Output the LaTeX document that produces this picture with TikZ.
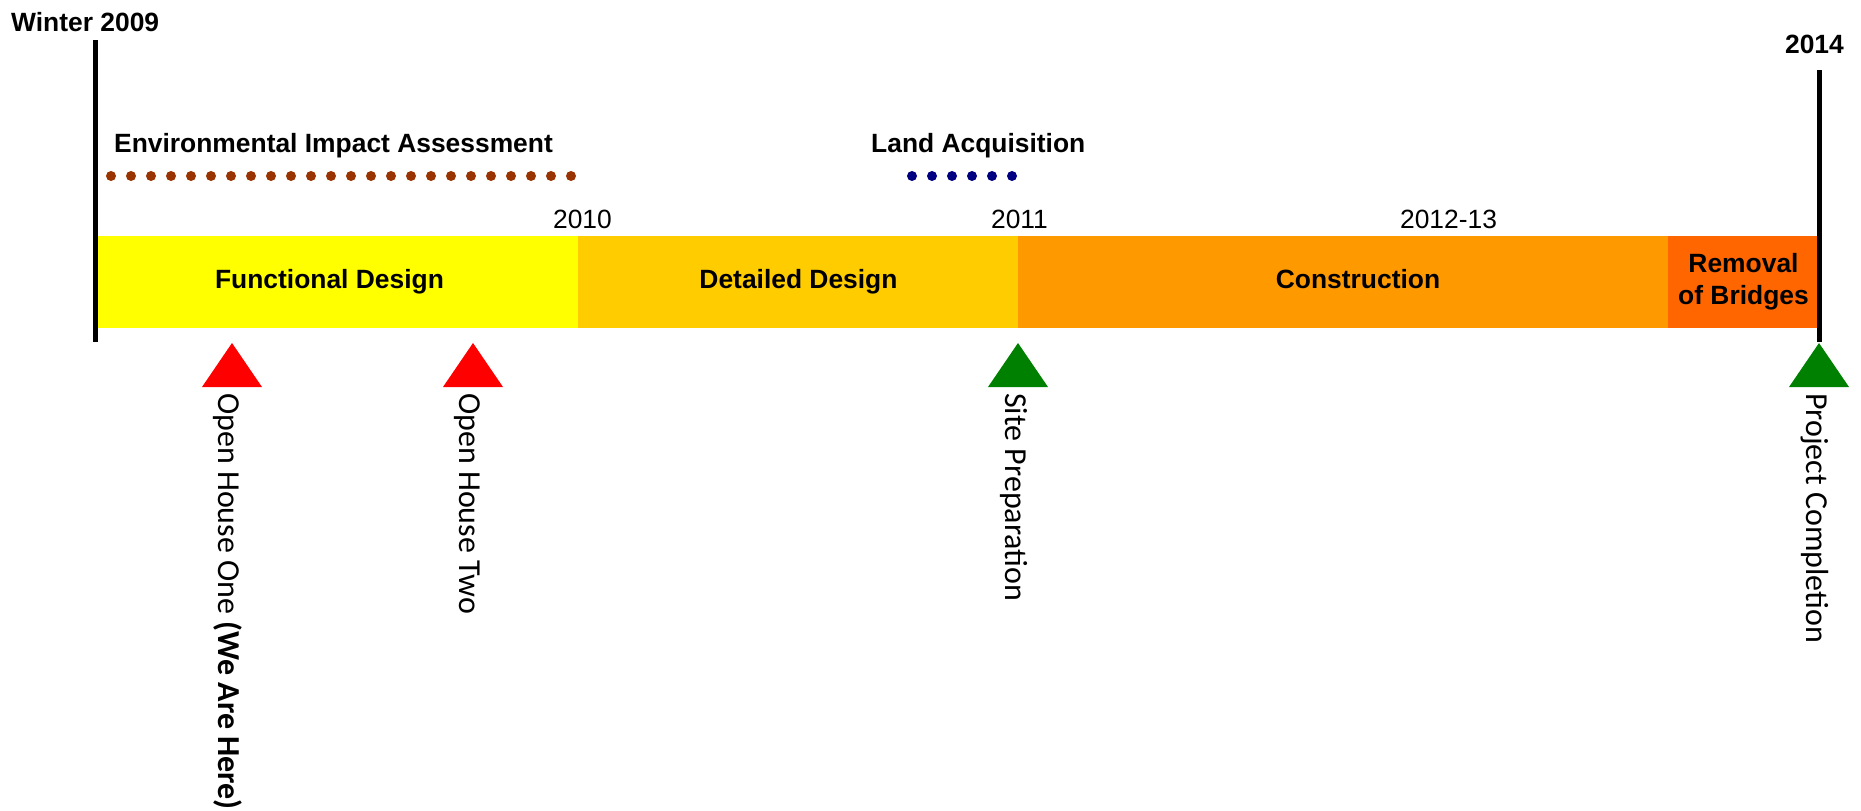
\documentclass[tikz,border=0pt]{standalone}
\usepackage{fontspec}
\setmainfont{Liberation Sans}
\newfontfamily\calib{Carlito}
\definecolor{eiabrown}{HTML}{993300}
\definecolor{landblue}{HTML}{000080}
\definecolor{phaseA}{HTML}{FFFF00}
\definecolor{phaseB}{HTML}{FFCC00}
\definecolor{phaseC}{HTML}{FF9900}
\definecolor{phaseD}{HTML}{FF6600}
\definecolor{msred}{HTML}{FF0000}
\definecolor{msgreen}{HTML}{008000}
\begin{document}
\begin{tikzpicture}[x=1pt,y=-1pt,
  reg/.style={inner sep=0pt, font=\fontsize{26.4}{32}\selectfont},
  bld/.style={inner sep=0pt, font=\fontsize{26.4}{32}\selectfont\bfseries},
  phasebar/.style={draw=none, inner sep=0pt, anchor=north west, minimum height=92pt},
  tickline/.style={line width=5pt, black},
  eiadot/.style={fill=eiabrown},
  landdot/.style={fill=landblue},
  vlab/.style={rotate=-90, anchor=base west, inner sep=0pt, font=\calib\fontsize{32}{38}\selectfont},
]
\useasboundingbox (0,0) rectangle (1861,811);

% phase bars
\node[phasebar, fill=phaseA, minimum width=483pt] (fdbar) at (95,236) {};
\node[phasebar, fill=phaseB, minimum width=440pt] (ddbar) at (578,236) {};
\node[phasebar, fill=phaseC, minimum width=650pt] (cobar) at (1018,236) {};
\node[phasebar, fill=phaseD, minimum width=151pt] (rbbar) at (1668,236) {};

\node[bld, anchor=base] (fdlab) at (329.5,288) {Functional Design};
\node[bld, anchor=base] (ddlab) at (798.5,288) {Detailed Design};
\node[bld, anchor=base] (colab) at (1358,288) {Construction};
\node[bld, anchor=north, align=center] (rblab) at (1743.5,253.5) {Removal\\of Bridges};

% year labels
\node[reg, anchor=base] (y10) at (582.5,228) {2010};
\node[reg, anchor=base] (y11) at (1019.5,228) {2011};
\node[reg, anchor=base] (y12) at (1448.5,228) {2012-13};
\node[bld, anchor=base west] (y09) at (11,31) {Winter 2009};
\node[bld, anchor=base east] (y14) at (1844,53) {2014};

% start / end lines
\coordinate (l0top) at (95,40);
\coordinate (l0bot) at (95,342);
\coordinate (l1top) at (1819,70);
\coordinate (l1bot) at (1819,342);
\draw[tickline] (l0top) -- (l0bot);
\draw[tickline] (l1top) -- (l1bot);

% activities
\node[bld, anchor=base west] (eia) at (114,152) {Environmental Impact Assessment};
\node[bld, anchor=base west] (land) at (871,152) {Land Acquisition};
\foreach \i in {0,...,23} \fill[eiadot] (111+20*\i,176) circle (5pt);
\foreach \i in {0,...,5} \fill[landdot] (912+20*\i,176) circle (5pt);

% milestones
\coordinate (m1) at (232,343);
\coordinate (m2) at (473,343);
\coordinate (m3) at (1018,343);
\coordinate (m4) at (1819,343);
\fill[msred] (m1) -- ++(30,44) -- ++(-60,0) -- cycle;
\fill[msred] (m2) -- ++(30,44) -- ++(-60,0) -- cycle;
\fill[msgreen] (m3) -- ++(30,44) -- ++(-60,0) -- cycle;
\fill[msgreen] (m4) -- ++(30,44) -- ++(-60,0) -- cycle;

\node[vlab] (m1lab) at (218,393) {Open House One \textbf{(We Are Here)}};
\node[vlab] (m2lab) at (459,393) {Open House Two};
\node[vlab] (m3lab) at (1005,393) {Site Preparation};
\node[vlab] (m4lab) at (1806,393) {Project Completion};
\end{tikzpicture}
\end{document}
